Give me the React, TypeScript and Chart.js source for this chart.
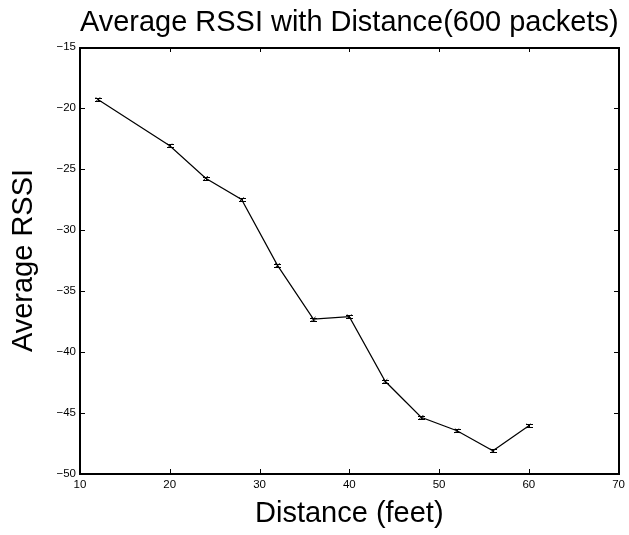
import React, { useEffect, useRef } from "react";
import { Chart, registerables } from "chart.js";

Chart.register(...registerables);

const distances = [12, 20, 24, 28, 32, 36, 40, 44, 48, 52, 56, 60];
const avgRssi = [-19.3, -23.1, -25.75, -27.5, -32.9, -37.3, -37.1, -42.4, -45.35, -46.45, -48.1, -46.05];
const rssiError = [0.12, 0.12, 0.12, 0.12, 0.12, 0.12, 0.12, 0.12, 0.12, 0.12, 0.12, 0.12];
const xTicks = [10, 20, 30, 40, 50, 60, 70];
const yTicks = [-50, -45, -40, -35, -30, -25, -20, -15];

const FONT = "'Liberation Sans', Arial, Helvetica, sans-serif";

const boxPlugin = {
  id: "matlabBox",
  afterDraw(chart: any) {
    const ctx = chart.ctx;
    const xs = chart.scales.x;
    const ys = chart.scales.y;
    const L = Math.round(xs.getPixelForValue(10));
    const R = Math.round(xs.getPixelForValue(70));
    const T = Math.round(ys.getPixelForValue(-15));
    const B = Math.round(ys.getPixelForValue(-50));
    ctx.save();
    ctx.fillStyle = "#000";
    // error bars
    distances.forEach((d, i) => {
      const px = Math.round(xs.getPixelForValue(d));
      const yHi = Math.round(ys.getPixelForValue(avgRssi[i] + rssiError[i]));
      const yLo = Math.round(ys.getPixelForValue(avgRssi[i] - rssiError[i]));
      ctx.fillRect(px, yHi, 1, yLo - yHi + 1);
      ctx.fillRect(px - 3, yHi, 7, 1);
      ctx.fillRect(px - 3, yLo, 7, 1);
    });
    // box
    ctx.fillRect(L - 1, T, R - L + 2, 2);
    ctx.fillRect(L - 1, B - 1, R - L + 2, 2);
    ctx.fillRect(L - 1, T, 2, B - T);
    ctx.fillRect(R - 1, T, 2, B - T);
    // inward ticks
    const tl = 5;
    xTicks.forEach((v) => {
      const px = Math.round(xs.getPixelForValue(v));
      const x = Math.min(Math.max(px, L), R - 1);
      ctx.fillRect(x, B - tl, 1, tl);
      ctx.fillRect(x, T, 1, tl);
    });
    yTicks.forEach((v) => {
      const py = Math.round(ys.getPixelForValue(v));
      const y = Math.min(Math.max(py, T), B - 1);
      ctx.fillRect(L, y, tl, 1);
      ctx.fillRect(R - tl, y, tl, 1);
    });
    ctx.restore();
  },
};

const fmt = (v: any) => String(v).replace("-", "\u2212");

export default function App() {
  const ref = useRef<HTMLCanvasElement | null>(null);
  useEffect(() => {
    if (!ref.current) return;
    const chart = new Chart(ref.current, {
      type: "line",
      data: {
        datasets: [
          {
            data: distances.map((d, i) => ({ x: d, y: avgRssi[i] })),
            borderColor: "#000",
            borderWidth: 1.2,
            pointStyle: "crossRot",
            pointRadius: 3,
            pointBorderColor: "#000",
            pointBorderWidth: 1,
            tension: 0,
            fill: false,
          },
        ],
      },
      options: {
        animation: false,
        responsive: false,
        events: [],
        layout: { padding: { left: 0, right: 9, top: 0, bottom: 0 } },
        plugins: {
          legend: { display: false },
          tooltip: { enabled: false },
          title: {
            display: true,
            fullSize: false,
            text: "Average RSSI with Distance(600 packets)",
            color: "#000",
            font: { family: FONT, size: 29, weight: "normal", lineHeight: 1.2 },
            padding: { top: 5.6, bottom: 6.6 },
          },
        },
        scales: {
          x: {
            type: "linear",
            min: 10,
            max: 70,
            afterFit: (s: any) => {
              s.height = 61;
            },
            afterBuildTicks: (s: any) => {
              s.ticks = xTicks.map((v) => ({ value: v }));
            },
            grid: { display: false, drawTicks: false },
            border: { display: false },
            ticks: {
              color: "#000",
              padding: 4,
              maxRotation: 0,
              font: { family: FONT, size: 11.5 },
              callback: fmt,
            },
            title: {
              display: true,
              text: "Distance (feet)",
              color: "#000",
              font: { family: FONT, size: 29, lineHeight: 1.2 },
              padding: { top: 0, bottom: 3.6 },
            },
          },
          y: {
            type: "linear",
            min: -50,
            max: -15,
            afterFit: (s: any) => {
              s.width = 80;
            },
            afterBuildTicks: (s: any) => {
              s.ticks = yTicks.map((v) => ({ value: v }));
            },
            grid: { display: false, drawTicks: false },
            border: { display: false },
            ticks: {
              color: "#000",
              padding: 4,
              font: { family: FONT, size: 11.5 },
              callback: fmt,
            },
            title: {
              display: true,
              text: "Average RSSI",
              color: "#000",
              font: { family: FONT, size: 29, lineHeight: 1.2 },
              padding: { top: 6.6, bottom: 0 },
            },
          },
        },
      },
      plugins: [boxPlugin],
    });
    return () => chart.destroy();
  }, []);
  return (
    <div style={{ position: "absolute", left: 0, top: 0, width: 629, height: 535, background: "#fff" }}>
      <canvas ref={ref} width={629} height={535} style={{ width: 629, height: 535, display: "block" }} />
    </div>
  );
}
